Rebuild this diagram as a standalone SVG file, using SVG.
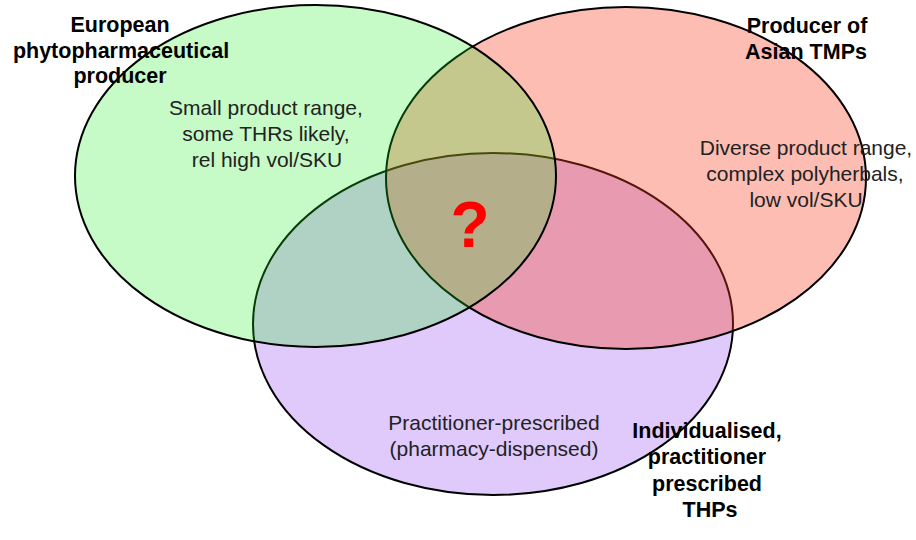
<svg xmlns="http://www.w3.org/2000/svg" width="916" height="540" viewBox="0 0 916 540">
<style>
.set{stroke:#000;stroke-width:2}
.title{font-family:"Liberation Sans",Arial,Helvetica,sans-serif;font-weight:bold;font-size:21.5px;fill:#000;text-anchor:middle}
.body{font-family:"Liberation Sans",Arial,Helvetica,sans-serif;font-size:21px;fill:#222;text-anchor:middle}
</style>
<rect width="916" height="540" fill="#fff"/>
<g id="set-individualised">
<ellipse class="set" cx="493" cy="324" rx="240" ry="171" fill="#e0cafc"/>
</g>
<g id="set-asian">
<ellipse class="set" cx="626" cy="178" rx="240" ry="171" fill="rgb(249,61,29)" fill-opacity="0.34"/>
</g>
<g id="set-european">
<ellipse class="set" cx="315.5" cy="176" rx="240.5" ry="171" fill="rgb(28,236,28)" fill-opacity="0.25"/>
</g>
<g id="label-european">
<text class="title" x="120" y="32">European</text>
<text class="title" x="121" y="57.5">phytopharmaceutical</text>
<text class="title" x="120" y="83">producer</text>
<text class="body" x="266" y="115">Small product range,</text>
<text class="body" x="266" y="141">some THRs likely,</text>
<text class="body" x="267" y="167">rel high vol/SKU</text>
</g>
<g id="label-asian">
<text class="title" x="807" y="33">Producer of</text>
<text class="title" x="806" y="59">Asian TMPs</text>
<text class="body" x="806" y="155">Diverse product range,</text>
<text class="body" x="805" y="181">complex polyherbals,</text>
<text class="body" x="806" y="207">low vol/SKU</text>
</g>
<g id="label-individualised">
<text class="title" x="707" y="438">Individualised,</text>
<text class="title" x="707" y="464">practitioner</text>
<text class="title" x="707" y="491">prescribed</text>
<text class="title" x="710" y="517">THPs</text>
<text class="body" x="494" y="430">Practitioner-prescribed</text>
<text class="body" x="494" y="456">(pharmacy-dispensed)</text>
</g>
<g id="center">
<text x="470" y="247" font-family="'Liberation Sans',Arial,Helvetica,sans-serif" font-weight="bold" font-size="64" fill="#ff0000" text-anchor="middle">?</text>
</g>
</svg>
